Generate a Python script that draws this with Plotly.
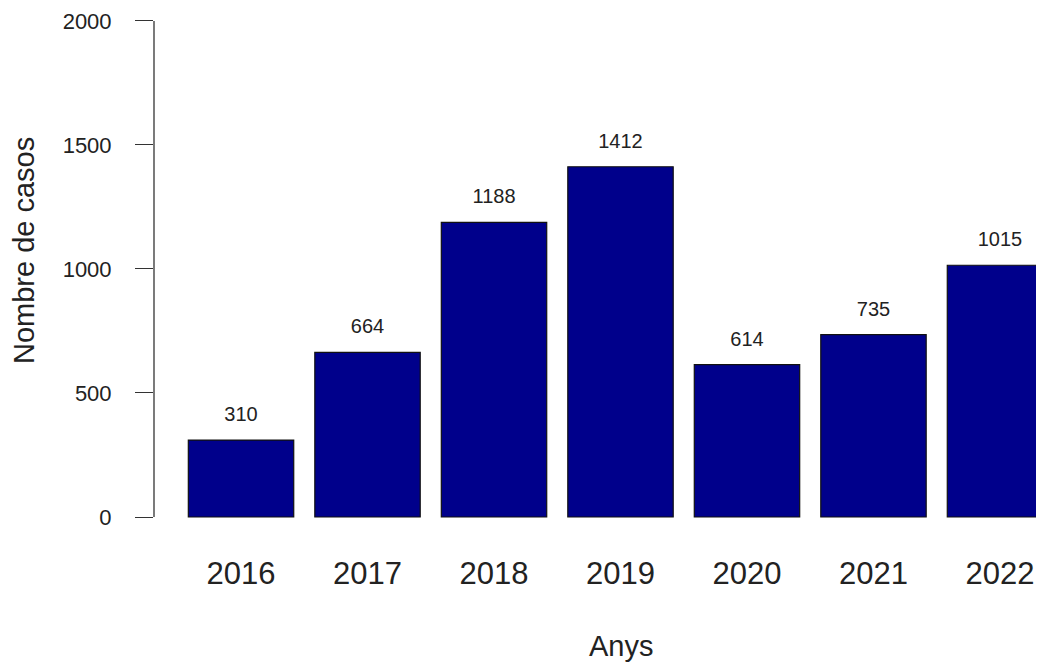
import plotly.graph_objects as go

# data
anys = ["2016", "2017", "2018", "2019", "2020", "2021", "2022"]
casos = [310, 664, 1188, 1412, 614, 735, 1015]
y_ticks = [0, 500, 1000, 1500, 2000]

font_family = "Liberation Sans, Arial, sans-serif"
ink = "#222222"

fig = go.Figure()
fig.add_trace(go.Bar(
    x=anys, y=casos,
    marker=dict(color="#00008B", line=dict(color="#111111", width=1.2)),
    hoverinfo="x+y",
))
# value labels sit a bit above each bar, like text(bp, casos + 100, casos) in R
fig.add_trace(go.Scatter(
    x=anys, y=[c + 97 for c in casos],
    mode="text", text=[str(c) for c in casos],
    textposition="middle center",
    textfont=dict(family=font_family, size=20, color=ink),
    hoverinfo="skip",
))

# the page has an 8px body margin, so the figure is sized to fit the window
fig.update_layout(
    width=1036, height=656,
    margin=dict(l=146, r=0, t=0, b=127),
    plot_bgcolor="white", paper_bgcolor="white",
    showlegend=False,
    bargap=1 / 6,
    font=dict(family=font_family, color=ink),
    xaxis=dict(
        type="category", range=[-0.688, 6.348],
        showline=False, showgrid=False, zeroline=False, ticks="",
        tickfont=dict(size=31, color=ink), ticklabelstandoff=15,
    ),
    yaxis=dict(
        range=[-80.6, 2052], tickvals=y_ticks,
        showline=False, showgrid=False, zeroline=False,
        ticks="outside", ticklen=18, tickwidth=1.3, tickcolor="#333333",
        tickfont=dict(size=22, color=ink), ticklabelstandoff=19,
    ),
    shapes=[dict(type="line", xref="paper", yref="y", x0=0, x1=0,
                 y0=y_ticks[0], y1=y_ticks[-1],
                 line=dict(color="#333333", width=1.3))],
    annotations=[
        dict(text="Nombre de casos", textangle=-90, xref="paper", yref="paper",
             x=0, y=0.5406, xanchor="center", yanchor="middle", xshift=-130,
             showarrow=False, font=dict(size=29, color=ink)),
        dict(text="Anys", xref="paper", yref="paper",
             x=0.5247, y=0, xanchor="center", yanchor="middle", yshift=-109,
             showarrow=False, font=dict(size=29, color=ink)),
    ],
)

fig.write_html("out.html")
